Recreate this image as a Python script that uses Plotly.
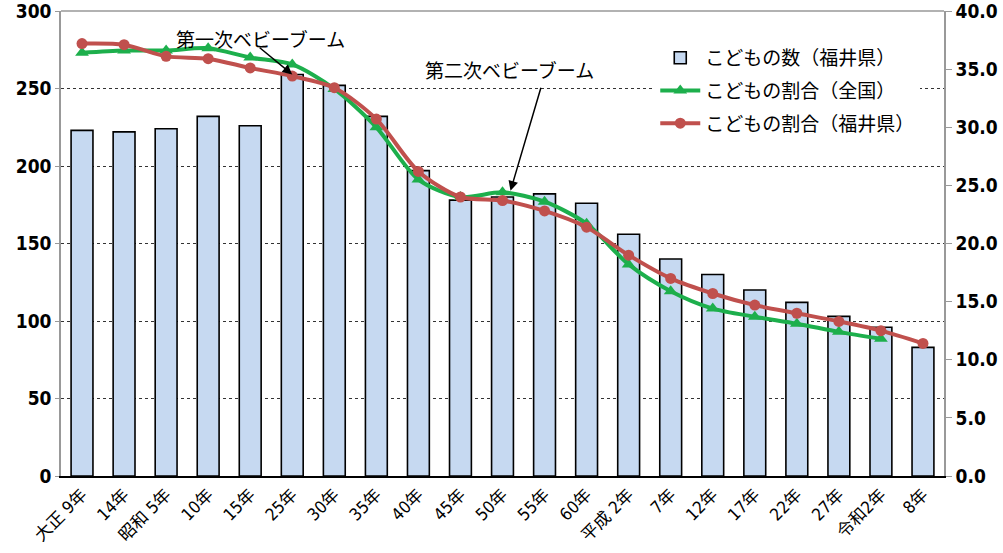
import plotly.graph_objects as go

categories = ["大正 9年", "14年", "昭和 5年", "10年", "15年", "25年", "30年", "35年", "40年",
              "45年", "50年", "55年", "60年", "平成 2年", "7年", "12年", "17年", "22年",
              "27年", "令和2年", "8年"]
children_fukui = [223, 222, 224, 232, 226, 259, 252, 232, 197, 178, 180, 182, 176, 156,
                  140, 130, 120, 112, 103, 96, 83]
ratio_national = [36.4, 36.6, 36.6, 36.8, 36.0, 35.4, 33.3, 30.0, 25.5, 24.0, 24.4, 23.6,
                  21.7, 18.2, 15.9, 14.4, 13.7, 13.1, 12.4, 11.8, None]
ratio_fukui = [37.2, 37.1, 36.1, 35.9, 35.1, 34.4, 33.4, 30.7, 26.2, 24.0, 23.7, 22.8,
               21.4, 19.0, 17.0, 15.7, 14.7, 14.0, 13.3, 12.5, 11.4]

x_idx = list(range(len(categories)))
narrow = "DejaVu Sans Condensed, Noto Sans CJK JP"
tick_font = dict(family=narrow, size=19, color="black", weight="bold")
cjk = "Noto Sans CJK JP, Noto Sans, sans-serif"

fig = go.Figure()
fig.add_trace(go.Bar(
    x=x_idx, y=children_fukui, name="こどもの数（福井県）", width=0.52,
    marker=dict(color="#c6d9f1", line=dict(color="black", width=1.6)),
    legendgroup="a", yaxis="y"))
fig.add_trace(go.Scatter(
    x=x_idx, y=ratio_national, name="こどもの割合（全国）", mode="lines+markers",
    line=dict(color="#1daf4c", width=4, shape="spline", smoothing=0.8),
    marker=dict(symbol="triangle-up", size=12, color="#1daf4c"),
    legendgroup="b", yaxis="y2", connectgaps=False))
fig.add_trace(go.Scatter(
    x=x_idx, y=ratio_fukui, name="こどもの割合（福井県）", mode="lines+markers",
    line=dict(color="#c0504d", width=4, shape="spline", smoothing=0.8),
    marker=dict(symbol="circle", size=11, color="#c0504d"),
    legendgroup="c", yaxis="y2"))

fig.update_layout(
    width=1003, height=553,
    margin=dict(l=61, r=59, t=11, b=77, autoexpand=False),
    plot_bgcolor="white", paper_bgcolor="white",
    bargap=0.48,
    xaxis=dict(
        tickmode="array", tickvals=x_idx, ticktext=categories,
        range=[-0.5, len(categories) - 0.5], tickangle=-45, automargin=False,
        tickfont=dict(family=narrow, size=17, color="black"),
        showline=True, linecolor="black", linewidth=2, showgrid=False,
        ticks="", mirror=False, zeroline=False),
    yaxis=dict(
        range=[0, 300.01], tickvals=[0, 50, 100, 150, 200, 250, 300], automargin=False,
        tickfont=tick_font, showgrid=True, gridcolor="#333333", griddash="dot",
        gridwidth=1, showline=True, linecolor="#999999", linewidth=1.5,
        ticks="outside", ticklen=4, tickcolor="#999999", zeroline=False,
        ticklabeloverflow="allow"),
    yaxis2=dict(
        range=[0, 40.001], tickvals=[0, 5, 10, 15, 20, 25, 30, 35, 40], automargin=False,
        ticktext=["0.0", "5.0", "10.0", "15.0", "20.0", "25.0", "30.0", "35.0", "40.0"],
        overlaying="y", side="right", tickfont=tick_font, showgrid=False,
        showline=True, linecolor="#999999", linewidth=1.5,
        ticks="outside", ticklen=6, tickcolor="#999999", zeroline=False,
        ticklabeloverflow="allow"),
    legend=dict(
        x=0.673, y=0.94, xanchor="left", yanchor="top",
        font=dict(family=cjk, size=19, color="black"),
        bgcolor="white", tracegroupgap=5, itemwidth=40),
    showlegend=True,
)

# top border
fig.add_shape(type="line", xref="paper", yref="paper", x0=0, x1=1, y0=1, y1=1,
              line=dict(color="#999999", width=1.5))

# annotation texts
fig.add_annotation(x=4.24, y=282.5, xref="x", yref="y", text="第一次ベビーブーム",
                   showarrow=False, font=dict(family=cjk, size=19, color="black"))
fig.add_annotation(x=10.17, y=262, xref="x", yref="y", text="第二次ベビーブーム",
                   showarrow=False, font=dict(family=cjk, size=19, color="black"))
# arrows
fig.add_annotation(x=5.0, y=259, xref="x", yref="y", text=" ", showarrow=True,
                   ax=-34, ay=-28, arrowhead=2, arrowsize=1.3, arrowwidth=1.5,
                   arrowcolor="black", font=dict(size=1))
fig.add_annotation(x=10.19, y=184, xref="x", yref="y", text=" ", showarrow=True,
                   ax=31, ay=-105, arrowhead=2, arrowsize=1.3, arrowwidth=1.5,
                   arrowcolor="black", font=dict(size=1))

fig.write_html("out.html", config={"displayModeBar": False},
               post_script="document.body.style.margin='0';document.body.style.padding='0';")
